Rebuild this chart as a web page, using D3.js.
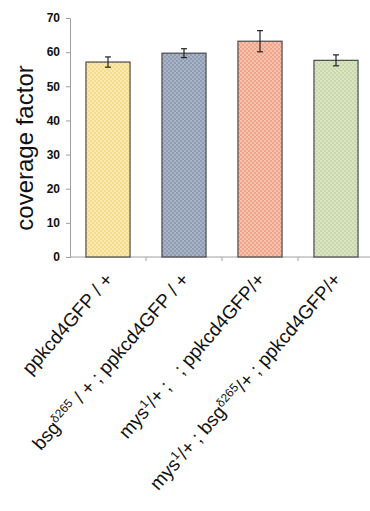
<!DOCTYPE html>
<html>
<head>
<meta charset="utf-8">
<script src="https://cdn.jsdelivr.net/npm/d3@7"></script>
<style>
  body { margin: 0; background: #fff; }
  svg { display: block; font-family: Arial, "Liberation Sans", sans-serif; }
</style>
</head>
<body>
<div id="chart"></div>
<script>
// Data
const genotypes = ["ppkcd4GFP / +", "bsg / + ; ppkcd4GFP / +", "mys/+ ;  ; ppkcd4GFP/+", "mys/+ ; bsg/+ ; ppkcd4GFP/+"];
const labelParts = [
    [["ppkcd4GFP / +", false]],
    [["bsg", false], ["δ265", true], [" / + ; ppkcd4GFP / +", false]],
    [["mys", false], ["1", true], ["/+ ;\u00a0\u00a0\u00a0; ppkcd4GFP/+", false]],
    [["mys", false], ["1", true], ["/+ ; bsg", false], ["δ265", true], ["/+ ; ppkcd4GFP/+", false]]
];
const coverage = [57.1, 59.7, 63.2, 57.6];
const errors = [1.5, 1.3, 3.1, 1.6];
const yTicks = [0, 10, 20, 30, 40, 50, 60, 70];
const barColors = ["#f8dc8c", "#a9b5c7", "#f0a48b", "#c8d8aa"];
const barDots = ["#fbe9b4", "#8e9bb0", "#f6c2b0", "#dbe6c6"];

const width = 370, height = 511;
const margin = { top: 18, left: 70, right: 0 };
const chartHeight = 257 - margin.top;
const band = 76;

const svg = d3.select("#chart").append("svg")
    .attr("width", width)
    .attr("height", height);

// checker patterns for bars
const defs = svg.append("defs");
barColors.forEach((c, i) => {
    const p = defs.append("pattern")
        .attr("id", "pat" + i)
        .attr("width", 4).attr("height", 4)
        .attr("patternUnits", "userSpaceOnUse");
    p.append("rect").attr("width", 4).attr("height", 4).attr("fill", c);
    p.append("rect").attr("width", 2).attr("height", 2).attr("fill", barDots[i]);
    p.append("rect").attr("x", 2).attr("y", 2).attr("width", 2).attr("height", 2).attr("fill", barDots[i]);
});

const chart = svg.append("g")
    .attr("transform", `translate(${margin.left},${margin.top})`);

const x = d3.scaleBand()
    .domain(genotypes)
    .range([0, band * genotypes.length])
    .paddingInner(0.42)
    .paddingOuter(0.21);

const y = d3.scaleLinear()
    .domain([0, 70])
    .range([chartHeight, 0]);

// y axis
const yAxis = chart.append("g")
    .call(d3.axisLeft(y).tickValues(yTicks).tickSize(4).tickPadding(6));
yAxis.select(".domain").attr("stroke", "#a0a0a0");
yAxis.selectAll(".tick line").attr("stroke", "#a0a0a0");
yAxis.selectAll(".tick text")
    .attr("fill", "#111")
    .style("font-size", "12px")
    .style("font-weight", "bold");

// x axis line with ticks between categories
chart.append("line")
    .attr("x1", 0).attr("x2", width - margin.left)
    .attr("y1", chartHeight).attr("y2", chartHeight)
    .attr("stroke", "#a0a0a0");
chart.selectAll(".xtick")
    .data(genotypes.slice(1))
    .enter().append("line")
    .attr("class", "xtick")
    .attr("x1", (d, i) => band * (i + 1))
    .attr("x2", (d, i) => band * (i + 1))
    .attr("y1", chartHeight)
    .attr("y2", chartHeight + 4)
    .attr("stroke", "#a0a0a0");

// bars
chart.selectAll(".bar")
    .data(coverage)
    .enter().append("rect")
    .attr("class", "bar")
    .attr("x", (d, i) => x(genotypes[i]))
    .attr("width", x.bandwidth())
    .attr("y", d => y(d))
    .attr("height", d => chartHeight - y(d))
    .attr("fill", (d, i) => `url(#pat${i})`)
    .attr("stroke", "#4a4a4a")
    .attr("stroke-width", 1.2);

// error bars
const err = chart.selectAll(".err")
    .data(coverage)
    .enter().append("g")
    .attr("class", "err")
    .attr("stroke", "#222")
    .attr("stroke-width", 1.2);
err.append("line")
    .attr("x1", (d, i) => x(genotypes[i]) + x.bandwidth() / 2)
    .attr("x2", (d, i) => x(genotypes[i]) + x.bandwidth() / 2)
    .attr("y1", (d, i) => y(d + errors[i]))
    .attr("y2", (d, i) => y(d - errors[i]));
err.append("line")
    .attr("x1", (d, i) => x(genotypes[i]) + x.bandwidth() / 2 - 3)
    .attr("x2", (d, i) => x(genotypes[i]) + x.bandwidth() / 2 + 3)
    .attr("y1", (d, i) => y(d + errors[i]))
    .attr("y2", (d, i) => y(d + errors[i]));
err.append("line")
    .attr("x1", (d, i) => x(genotypes[i]) + x.bandwidth() / 2 - 3)
    .attr("x2", (d, i) => x(genotypes[i]) + x.bandwidth() / 2 + 3)
    .attr("y1", (d, i) => y(d - errors[i]))
    .attr("y2", (d, i) => y(d - errors[i]));

// x labels, rotated
const xl = chart.selectAll(".xlabel")
    .data(genotypes)
    .enter().append("text")
    .attr("class", "xlabel")
    .attr("text-anchor", "end")
    .attr("transform", d => `translate(${x(d) + x.bandwidth() / 2 + 6},${chartHeight + 23}) rotate(-49)`)
    .style("font-size", "19px")
    .attr("fill", "#111");
xl.each(function(d, i) {
    const t = d3.select(this);
    labelParts[i].forEach(([s, sup]) => {
        t.append("tspan")
            .attr("baseline-shift", sup ? "super" : null)
            .style("font-size", sup ? "12px" : null)
            .text(s);
    });
});

// y label
svg.append("text")
    .attr("transform", `translate(33,${margin.top + 130}) rotate(-90)`)
    .attr("text-anchor", "middle")
    .style("font-size", "24px")
    .attr("fill", "#111")
    .text("coverage factor");
</script>
</body>
</html>
